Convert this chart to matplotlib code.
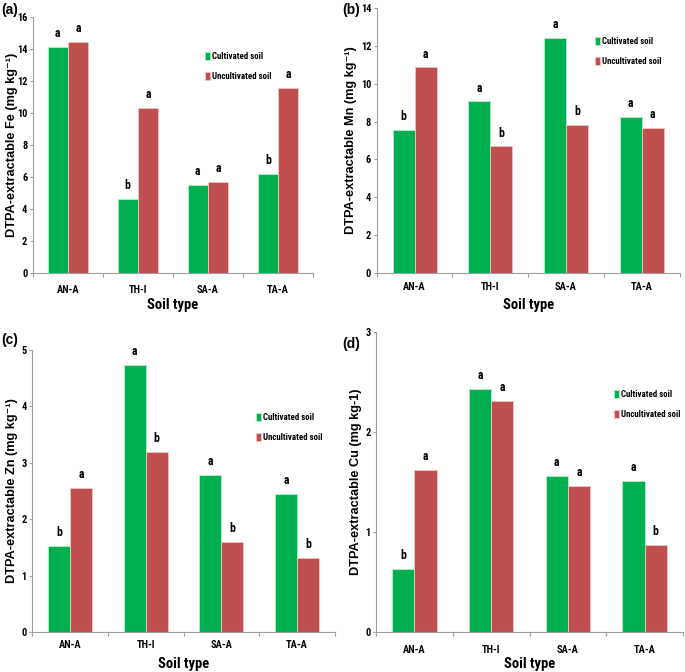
import numpy as np
import matplotlib as mpl
mpl.use('Agg')
import matplotlib.pyplot as plt
from matplotlib.ticker import FixedLocator, NullFormatter, FixedFormatter

soils = ['AN-A', 'TH-I', 'SA-A', 'TA-A']

fe_cult = [14.1, 4.6, 5.5, 6.2]
fe_uncult = [14.45, 10.3, 5.68, 11.55]
fe_let_cult = ['a', 'b', 'a', 'b']
fe_let_uncult = ['a', 'a', 'a', 'a']

mn_cult = [7.53, 9.06, 12.43, 8.24]
mn_uncult = [10.86, 6.68, 7.83, 7.65]
mn_let_cult = ['b', 'a', 'a', 'a']
mn_let_uncult = ['a', 'b', 'b', 'a']

zn_cult = [1.52, 4.73, 2.78, 2.44]
zn_uncult = [2.55, 3.19, 1.60, 1.32]
zn_let_cult = ['b', 'a', 'a', 'a']
zn_let_uncult = ['a', 'b', 'b', 'b']

cu_cult = [0.63, 2.43, 1.56, 1.51]
cu_uncult = [1.62, 2.31, 1.46, 0.87]
cu_let_cult = ['b', 'a', 'a', 'a']
cu_let_uncult = ['a', 'a', 'a', 'b']

green = '#00b050'
red = '#c0504d'
axis_grey = '#a0a0a0'
narrow = ['Roboto Condensed', 'DejaVu Sans']
arial = ['Liberation Sans', 'DejaVu Sans']

fig = plt.figure(figsize=(6.85, 6.72), dpi=100)

panels = [
    # label, axes rect, cult, uncult, letters, ymax, ystep, ylabel, ylabel x, xlabel y,
    # tick pad, legend anchor, panel label pos
    ('(a)', [0.048, 0.594, 0.409, 0.381], fe_cult, fe_uncult, fe_let_cult, fe_let_uncult,
     16, 2, 'DTPA-extractable Fe (mg kg\u207b\u00b9)', -0.052, -0.098, 8.5,
     (0.614, 0.863), (0.002, 0.996)),
    ('(b)', [0.550, 0.594, 0.442, 0.394], mn_cult, mn_uncult, mn_let_cult, mn_let_uncult,
     14, 2, 'DTPA-extractable Mn (mg kg\u207b\u00b9)', -0.066, -0.094, 6.5,
     (0.72, 0.89), (0.499, 0.996)),
    ('(c)', [0.047, 0.0595, 0.442, 0.420], zn_cult, zn_uncult, zn_let_cult, zn_let_uncult,
     5, 1, 'DTPA-extractable Zn (mg kg\u207b\u00b9)', -0.048, -0.089, 5.8,
     (0.739, 0.777), (0.002, 0.504)),
    ('(d)', [0.549, 0.0595, 0.448, 0.446], cu_cult, cu_uncult, cu_let_cult, cu_let_uncult,
     3, 1, 'DTPA-extractable Cu (mg kg-1)', -0.046, -0.083, 9.4,
     (0.775, 0.807), (0.499, 0.499)),
]

x = np.arange(len(soils))
w = 0.29

for (plab, rect, cult, uncult, lc, lu, ymax, ystep, ylab, ylx, xly, tpad, legpos, ppos) in panels:
    ax = fig.add_axes(rect)

    ax.bar(x - w / 2, cult, w, color=green, edgecolor='#b8f0c8', linewidth=0.6,
           label='Cultivated soil')
    ax.bar(x + w / 2, uncult, w, color=red, edgecolor='#f2c4c4', linewidth=0.6,
           label='Uncultivated soil')

    # significance letters
    for i in range(len(soils)):
        ax.annotate(lc[i], (x[i] - w / 2, cult[i]), xytext=(0, 5), textcoords='offset points',
                    ha='center', va='bottom', fontsize=8.5, fontweight='bold', family=narrow)
        ax.annotate(lu[i], (x[i] + w / 2, uncult[i]), xytext=(0, 5), textcoords='offset points',
                    ha='center', va='bottom', fontsize=8.5, fontweight='bold', family=narrow)

    ax.set_xlim(-0.5, len(soils) - 0.5)
    ax.set_ylim(0, ymax)
    ax.set_yticks(np.arange(0, ymax + ystep / 2., ystep))

    # category ticks between groups, labels at centres
    ax.xaxis.set_major_locator(FixedLocator(np.arange(-0.5, len(soils), 1.)))
    ax.xaxis.set_major_formatter(NullFormatter())
    ax.xaxis.set_minor_locator(FixedLocator(x))
    ax.xaxis.set_minor_formatter(FixedFormatter(soils))
    ax.tick_params(axis='x', which='minor', length=0, pad=tpad)
    ax.tick_params(axis='x', which='major', length=3, color=axis_grey)
    ax.tick_params(axis='y', length=2.5, color=axis_grey, pad=1.5)

    for lab in ax.get_xticklabels(minor=True) + ax.get_yticklabels():
        lab.set_family(narrow)
        lab.set_fontsize(7.5)
        lab.set_fontweight('bold')

    for s in ['top', 'right']:
        ax.spines[s].set_visible(False)
    for s in ['left', 'bottom']:
        ax.spines[s].set_color(axis_grey)
        ax.spines[s].set_linewidth(0.8)

    ax.set_ylabel(ylab, fontsize=9.2, fontweight='bold', family=arial)
    ax.yaxis.set_label_coords(ylx, 0.5)
    ax.set_xlabel('Soil type', fontsize=10.5, fontweight='bold', family=narrow)
    ax.xaxis.set_label_coords(0.5, xly)

    ax.legend(loc='upper left', bbox_to_anchor=legpos, frameon=False,
              handlelength=0.55, handleheight=1.0, handletextpad=0.25,
              labelspacing=1.25, borderaxespad=0, borderpad=0,
              prop={'family': narrow, 'size': 6.4, 'weight': 'bold'})

    fig.text(ppos[0], ppos[1], plab, fontsize=10, fontweight='bold', va='top', ha='left',
             family=arial)

fig.savefig('out.png', dpi=100)
